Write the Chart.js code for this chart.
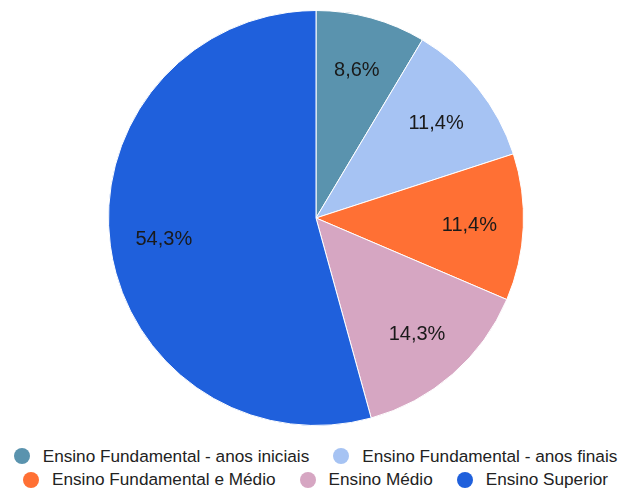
<!DOCTYPE html>
<html>
<head>
<meta charset="utf-8">
<script src="https://cdn.jsdelivr.net/npm/chart.js@4"></script>
<style>
  html, body { margin: 0; padding: 0; background: #fff; }
  #wrap { position: relative; width: 623px; height: 440px; }
  #legenda {
    position: absolute; left: 4px; top: 446px; width: 623px;
    display: flex; flex-wrap: wrap; justify-content: center;
    column-gap: 24px; row-gap: 3.5px;
    font-family: "Liberation Sans", Arial, sans-serif; font-size: 17.2px; color: #222;
  }
  .item { display: flex; align-items: center; height: 20px; white-space: nowrap; }
  .marca { width: 16px; height: 16px; border-radius: 50%; margin-right: 13px; }
</style>
</head>
<body>
<div id="wrap"><canvas id="grafico"></canvas></div>
<div id="legenda"></div>
<script>
const categorias = [
    'Ensino Fundamental - anos iniciais',
    'Ensino Fundamental - anos finais',
    'Ensino Fundamental e Médio',
    'Ensino Médio',
    'Ensino Superior'
];
const valores = [3, 4, 4, 5, 19];
const cores = ['#5a93ae', '#a6c3f3', '#ff7034', '#d6a6c2', '#1f60dc'];

// rótulos de porcentagem dentro das fatias
const rotulosPlugin = {
    id: 'rotulos',
    afterDatasetsDraw(chart) {
        const ctx = chart.ctx;
        const meta = chart.getDatasetMeta(0);
        const total = valores.reduce((a, b) => a + b, 0);
        ctx.save();
        ctx.font = '20px "Liberation Sans", Arial, sans-serif';
        ctx.fillStyle = '#1a1a1a';
        ctx.textAlign = 'center';
        ctx.textBaseline = 'middle';
        meta.data.forEach((arc, i) => {
            const ang = (arc.startAngle + arc.endAngle) / 2;
            const r = arc.outerRadius * 0.74;
            const x = arc.x + Math.cos(ang) * r;
            const y = arc.y + Math.sin(ang) * r;
            const pct = (valores[i] / total * 100).toFixed(1).replace('.', ',') + '%';
            ctx.fillText(pct, x, y + 1);
        });
        ctx.restore();
    }
};

new Chart(document.getElementById('grafico'), {
    type: 'pie',
    data: {
        labels: categorias,
        datasets: [{
            data: valores,
            backgroundColor: cores,
            borderColor: '#fff',
            borderWidth: 1
        }]
    },
    options: {
        responsive: true,
        maintainAspectRatio: false,
        animation: false,
        layout: { padding: { top: 10, bottom: 14, left: 9 } },
        plugins: {
            tooltip: { enabled: false },
            legend: { display: false }
        }
    },
    plugins: [rotulosPlugin]
});

// legenda em HTML
const legenda = document.getElementById('legenda');
categorias.forEach((nome, i) => {
    const item = document.createElement('div');
    item.className = 'item';
    item.innerHTML = `<span class="marca" style="background:${cores[i]}"></span><span>${nome}</span>`;
    legenda.appendChild(item);
});
</script>
</body>
</html>
